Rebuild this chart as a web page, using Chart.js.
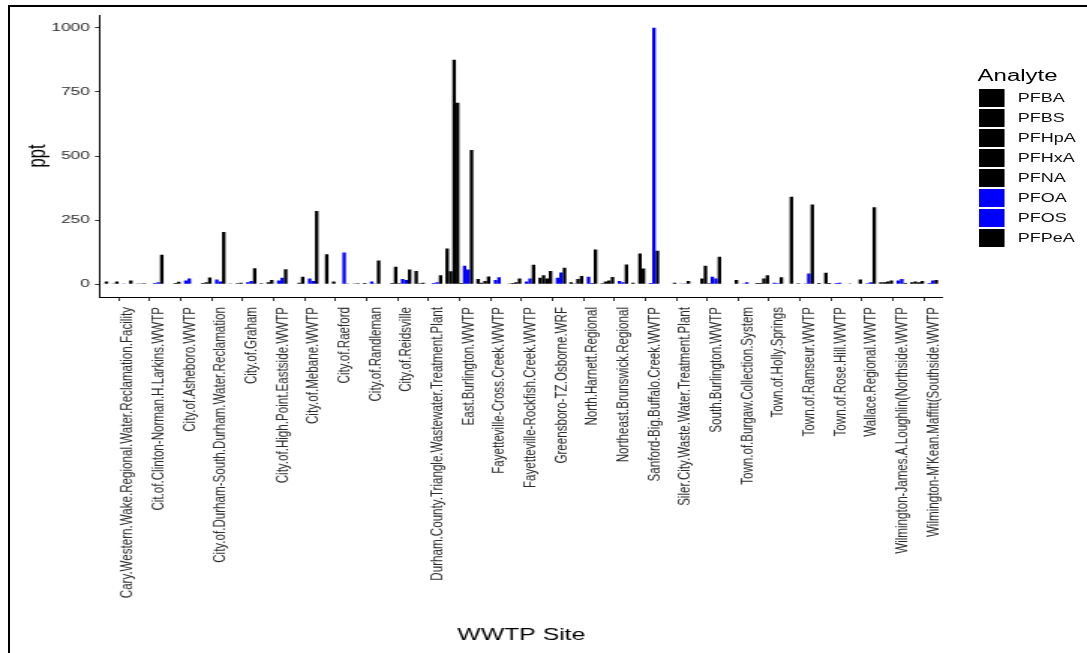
<!DOCTYPE html>
<html>
<head>
<meta charset="utf-8">
<script src="https://cdn.jsdelivr.net/npm/chart.js"></script>
<style>
  html, body { margin: 0; padding: 0; background: #fff; overflow: hidden; }
  #page { position: relative; width: 1087px; height: 653px; overflow: hidden; background: #fff; }
  /* the reference is a ggplot raster stretched sideways, so draw narrow and scale x */
  #plot { position: absolute; left: 0; top: 0; width: 725px; height: 653px; transform: scaleX(1.4993); transform-origin: 0 0; }
  #frameTop { position: absolute; left: 7.5px; top: 5px; width: 1080px; height: 2px; background: #000; }
  #frameLeft { position: absolute; left: 7.5px; top: 5px; width: 2px; height: 648px; background: #000; }
  #legend { position: absolute; left: 0; top: 0; font-family: "Liberation Sans", Arial, sans-serif; }
  .lg-title { position: absolute; left: 652px; top: 67.5px; font-size: 16px; line-height: 16px; color: #000; white-space: nowrap; }
  .lg-key { position: absolute; left: 652.7px; width: 17.8px; height: 18px; }
  .lg-label { position: absolute; left: 678.9px; height: 18px; font-size: 12px; line-height: 18px; color: #111; white-space: nowrap; }
</style>
</head>
<body>
<div id="page">
  <div id="plot">
    <canvas id="chart"></canvas>
    <div id="legend"></div>
  </div>
  <div id="frameTop"></div>
  <div id="frameLeft"></div>
</div>
<script>
// WWTP sites (x categories)
const sites = [
  "Cary.Western.Wake.Regional.Water.Reclamation.Facility",
  "Cit.of.Clinton-Norman.H.Larkins.WWTP",
  "City.of.Asheboro.WWTP",
  "City.of.Durham-South.Durham.Water.Reclamation",
  "City.of.Graham",
  "City.of.High.Point.Eastside.WWTP",
  "City.of.Mebane.WWTP",
  "City.of.Raeford",
  "City.of.Randleman",
  "City.of.Reidsville",
  "Durham.County.Triangle.Wastewater.Treatment.Plant",
  "East.Burlington.WWTP",
  "Fayetteville-Cross.Creek.WWTP",
  "Fayetteville-Rockfish.Creek.WWTP",
  "Greensboro-TZ.Osborne.WRF",
  "North.Harnett.Regional",
  "Northeast.Brunswick.Regional",
  "Sanford-Big.Buffalo.Creek.WWTP",
  "Siler.City.Waste.Water.Treatment.Plant",
  "South.Burlington.WWTP",
  "Town.of.Burgaw.Collection.System",
  "Town.of.Holly.Springs",
  "Town.of.Ramseur.WWTP",
  "Town.of.Rose.Hill.WWTP",
  "Wallace.Regional.WWTP",
  "Wilmington-James.A.Loughlin(Northside.WWTP",
  "Wilmington-M'Kean.Maffitt(Southside.WWTP"
];

const analytes = ["PFBA", "PFBS", "PFHpA", "PFHxA", "PFNA", "PFOA", "PFOS", "PFPeA"];
const analyteColors = ["#000000", "#000000", "#000000", "#000000", "#000000", "#0000FF", "#0000FF", "#000000"];

// concentrations in ppt, one value per site
const pfba  = [10, 3, 0, 0, 3, 4, 0, 0, 3, 0, 51, 139, 20, 3, 25, 8, 4, 6, 0, 0, 0, 5, 0, 5, 3, 8, 8];
const pfbs  = [0, 3, 0, 5, 0, 0, 0, 117, 4, 0, 4, 50, 6, 5, 35, 3, 10, 0, 0, 0, 0, 5, 341, 0, 0, 8, 10];
const pfhpa = [3, 4, 5, 8, 4, 8, 6, 0, 0, 5, 6, 875, 12, 8, 22, 20, 14, 120, 0, 22, 0, 22, 0, 45, 0, 10, 8];
const pfhxa = [10, 0, 9, 26, 6, 16, 29, 10, 5, 68, 0, 708, 30, 22, 51, 32, 28, 61, 6, 72, 16, 35, 4, 5, 18, 14, 12];
const pfna  = [0, 0, 0, 0, 0, 0, 0, 0, 0, 4, 0, 5, 0, 0, 0, 0, 0, 0, 0, 4, 0, 0, 0, 0, 0, 0, 0];
const pfoa  = [3, 5, 14, 18, 8, 14, 22, 0, 10, 20, 5, 72, 16, 10, 25, 29, 12, 5, 3, 29, 3, 6, 3, 5, 4, 14, 5];
const pfos  = [0, 8, 22, 10, 12, 25, 12, 124, 3, 16, 8, 57, 27, 22, 46, 5, 8, 1000, 3, 22, 8, 4, 42, 6, 8, 20, 14];
const pfpea = [14, 115, 0, 204, 62, 58, 285, 3, 92, 57, 35, 523, 0, 76, 64, 135, 77, 130, 12, 107, 0, 27, 311, 0, 300, 5, 16];

const seriesValues = [pfba, pfbs, pfhpa, pfhxa, pfna, pfoa, pfos, pfpea];
const yTicks = [0, 250, 500, 750, 1000];

const FONT = "'Liberation Sans', Arial, sans-serif";

// legend (Analyte)
const legendBox = document.getElementById("legend");
let html = '<div class="lg-title">Analyte</div>';
analytes.forEach((name, k) => {
  const top = 89.3 + 20 * k;
  html += '<div class="lg-key" style="top:' + top + 'px;background:' + analyteColors[k] + '"></div>';
  html += '<div class="lg-label" style="top:' + top + 'px">' + name + '</div>';
});
legendBox.innerHTML = html;

const ctx = document.getElementById("chart").getContext("2d");
new Chart(ctx, {
  type: "bar",
  data: {
    datasets: analytes.map((name, k) => ({
      label: name,
      data: seriesValues[k].map((v, i) => ({ x: i, y: v })),
      backgroundColor: analyteColors[k],
      borderWidth: 0,
      categoryPercentage: 0.9,
      barPercentage: 1.0
    }))
  },
  options: {
    responsive: true,
    maintainAspectRatio: false,
    animation: false,
    layout: { padding: { left: 15.4, top: 15, right: 96.3, bottom: 0 } },
    plugins: { legend: { display: false }, tooltip: { enabled: false } },
    scales: {
      x: {
        type: "linear",
        min: -0.6,
        max: 26.6,
        offset: false,
        afterBuildTicks: s => { s.ticks = sites.map((_, i) => ({ value: i })); },
        afterFit: s => { s.height = 356; },
        border: { display: true, color: "#000", width: 1 },
        grid: { offset: false, drawOnChartArea: false, drawTicks: true, tickLength: 4, tickColor: "#333", tickWidth: 1 },
        ticks: {
          autoSkip: false,
          minRotation: 90,
          maxRotation: 90,
          padding: 6,
          labelOffset: 6,
          color: "#2b2b2b",
          font: { family: FONT, size: 11.6 },
          callback: v => sites[v]
        },
        title: { display: true, text: "WWTP Site", color: "#000", font: { family: FONT, size: 16.5 }, padding: { top: 0, bottom: 8 } }
      },
      y: {
        min: -50,
        max: 1050,
        afterBuildTicks: s => { s.ticks = yTicks.map(v => ({ value: v })); },
        afterFit: s => { s.width = 51.3; },
        border: { display: true, color: "#000", width: 1 },
        grid: { drawOnChartArea: false, drawTicks: true, tickLength: 3.4, tickColor: "#333", tickWidth: 1 },
        ticks: {
          padding: 3.3,
          color: "#2b2b2b",
          font: { family: FONT, size: 11.6 },
          callback: v => String(v)
        },
        title: { display: true, text: "ppt", color: "#000", font: { family: FONT, size: 16.5 }, padding: { top: 0, bottom: 0 } }
      }
    }
  }
});
</script>
</body>
</html>
